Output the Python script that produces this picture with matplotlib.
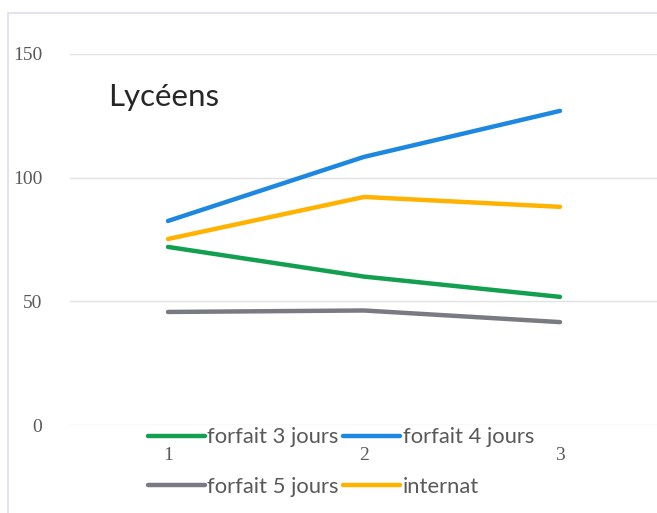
import matplotlib
matplotlib.use("Agg")
import matplotlib.pyplot as plt
from matplotlib.patches import Rectangle

categories = ["1", "2", "3"]
forfait3 = [72.0, 60.0, 51.8]
forfait4 = [82.5, 108.4, 127.0]
forfait5 = [45.7, 46.3, 41.6]
internat = [75.2, 92.2, 88.2]
series_names = ["forfait 3 jours", "forfait 4 jours", "forfait 5 jours", "internat"]
yticks = [0, 50, 100, 150]

W, H = 657, 513
fig = plt.figure(figsize=(W / 100, H / 100), dpi=100)
fig.patch.set_facecolor("white")

# outer chart frame
fig.patches.append(Rectangle((8 / W, -0.2), 1.2, 1.2 - 13 / H, transform=fig.transFigure,
                             fill=False, edgecolor="#dcdcee", linewidth=1.2))

left, right = 70, 658
top, bottom = 54, 425
ax = fig.add_axes([left / W, 1 - bottom / H, (right - left) / W, (bottom - top) / H])
ax.set_facecolor("none")

x = list(range(1, len(categories) + 1))
colors = ["#12a050", "#1e88e0", "#7a7a82", "#ffb200"]
lines = []
for vals, name, c in zip([forfait3, forfait4, forfait5, internat], series_names, colors):
    ln, = ax.plot(x, vals, color=c, linewidth=3.2, label=name, solid_capstyle="round")
    lines.append(ln)

ax.set_xlim(0.5, 3.5)
ax.set_ylim(0, 150)
ax.set_yticks(yticks)
ax.set_xticks(x)
ax.set_xticklabels(categories)
ax.grid(axis="y", color="#e2e2e2", linewidth=1)
ax.set_axisbelow(True)
for s in ax.spines.values():
    s.set_visible(False)
ax.tick_params(axis="both", length=0, labelsize=14, colors="#595959")
ax.tick_params(axis="y", pad=20)
ax.tick_params(axis="x", pad=16)
for lab in ax.get_xticklabels() + ax.get_yticklabels():
    lab.set_fontfamily("Liberation Serif")

fig.text(108 / W, 1 - 97 / H, "Lycéens", fontsize=22.5, fontfamily="Lato",
         color="#262626", va="center", ha="left")

# row-wise ordering for a 2-column legend
order = [0, 2, 1, 3]
fig.legend([lines[i] for i in order], [series_names[i] for i in order],
           loc="center", ncol=2,
           bbox_to_anchor=((147 + 535) / 2 / W, 1 - 462 / H),
           frameon=False, prop={"family": "Lato", "size": 15.8},
           handlelength=2.6, handletextpad=0.1, columnspacing=0.2,
           labelspacing=1.35, borderpad=0, labelcolor="#595959")

fig.savefig("out.png", dpi=100, facecolor="white")
